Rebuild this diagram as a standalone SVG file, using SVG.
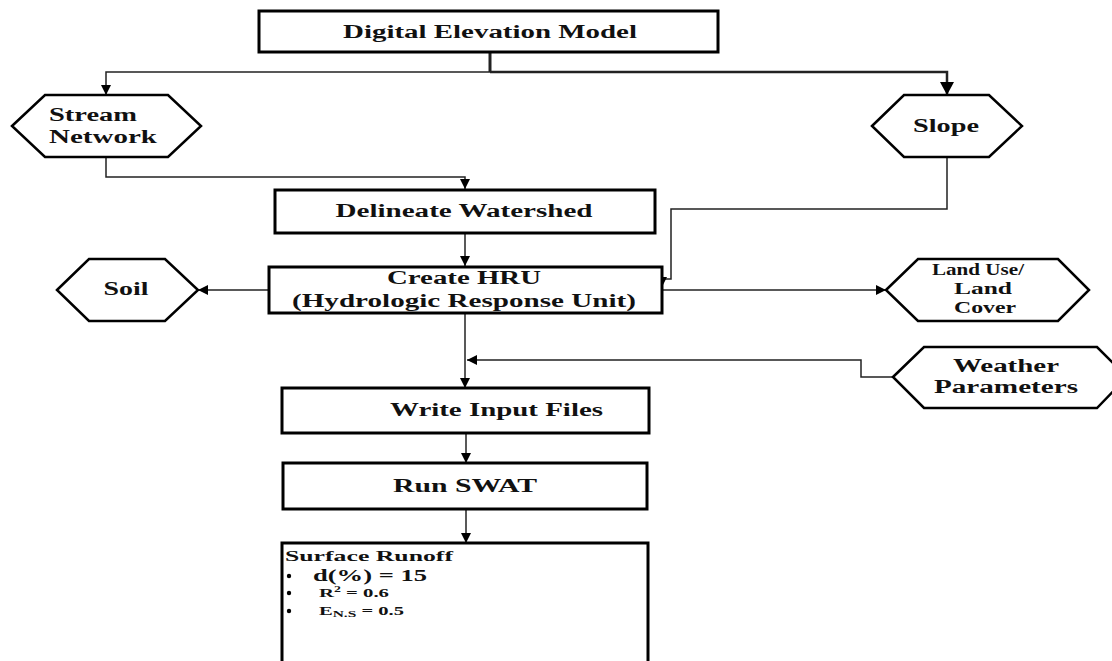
<svg xmlns="http://www.w3.org/2000/svg" width="1112" height="661" viewBox="0 0 1112 661">
<style>
.box{fill:#fff;stroke:#000;stroke-width:3}
.hex{fill:#fff;stroke:#000;stroke-width:2.5;stroke-linejoin:miter}
.t{font-family:"Liberation Serif","Times New Roman",serif;font-weight:bold;fill:#111;font-size:18px}
.c{fill:none;stroke:#222;stroke-width:1.5}
</style>
<defs>
<marker id="ah" markerUnits="userSpaceOnUse" markerWidth="10" markerHeight="10" refX="10" refY="5" orient="auto">
<path d="M0,0 L10,5 L0,10 z" fill="#000"/>
</marker>
<marker id="ahb" markerUnits="userSpaceOnUse" markerWidth="13" markerHeight="14" refX="13" refY="7" orient="auto">
<path d="M0,0 L13,7 L0,14 z" fill="#000"/>
</marker>
</defs>
<rect width="1112" height="661" fill="#fff"/>

<g id="connectors">
<path class="c" d="M490,52 V72" style="stroke-width:3"/>
<path class="c" d="M490,72 H106 V95" marker-end="url(#ah)"/>
<path class="c" d="M490,72 H947 V95" style="stroke-width:2.5" marker-end="url(#ahb)"/>
<path class="c" d="M106,157 V177 H465 V189" marker-end="url(#ah)"/>
<path class="c" d="M465,233 V266" marker-end="url(#ah)"/>
<path class="c" d="M947,157 V209 H671 V279 H662"/>
<path class="c" d="M662,277 V287" marker-end="url(#ah)"/>
<path class="c" d="M269,290 H198" marker-end="url(#ah)"/>
<path class="c" d="M662,290 H886" marker-end="url(#ah)"/>
<path class="c" d="M465,313 V388" marker-end="url(#ah)"/>
<path class="c" d="M893,377 H861 V360 H467" marker-end="url(#ah)"/>
<path class="c" d="M466,433 V463" marker-end="url(#ah)"/>
<path class="c" d="M466,509 V543" marker-end="url(#ah)"/>
</g>

<g id="dem">
<rect class="box" x="259" y="11" width="459" height="41"/>
<text class="t" x="490" y="38" text-anchor="middle" textLength="294" lengthAdjust="spacingAndGlyphs">Digital Elevation Model</text>
</g>

<g id="stream">
<polygon class="hex" points="12,126 45,95 168,95 201,126 168,157 45,157"/>
<text class="t" x="49" y="121" textLength="88" lengthAdjust="spacingAndGlyphs">Stream</text>
<text class="t" x="49" y="143" textLength="108" lengthAdjust="spacingAndGlyphs">Network</text>
</g>

<g id="slope">
<polygon class="hex" points="872,126 904,95 989,95 1022,126 989,157 904,157"/>
<text class="t" x="946" y="132" text-anchor="middle" textLength="66" lengthAdjust="spacingAndGlyphs">Slope</text>
</g>

<g id="delineate">
<rect class="box" x="275" y="190" width="380" height="43"/>
<text class="t" x="464" y="217" text-anchor="middle" textLength="257" lengthAdjust="spacingAndGlyphs">Delineate Watershed</text>
</g>

<g id="hru">
<rect class="box" x="269" y="267" width="393" height="46"/>
<text class="t" x="464" y="284" text-anchor="middle" textLength="154" lengthAdjust="spacingAndGlyphs">Create HRU</text>
<text class="t" x="464" y="307" text-anchor="middle" textLength="344" lengthAdjust="spacingAndGlyphs">(Hydrologic Response Unit)</text>
</g>

<g id="soil">
<polygon class="hex" points="57,290 89,259 165,259 198,290 165,321 89,321"/>
<text class="t" x="126" y="295" text-anchor="middle" textLength="45" lengthAdjust="spacingAndGlyphs">Soil</text>
</g>

<g id="landuse">
<polygon class="hex" points="886,290 918,259 1058,259 1089,290 1058,321 918,321"/>
<text class="t" x="978" y="275" text-anchor="middle" textLength="92" lengthAdjust="spacingAndGlyphs" style="font-size:17px">Land Use/</text>
<text class="t" x="983" y="294" text-anchor="middle" textLength="58" lengthAdjust="spacingAndGlyphs" style="font-size:17px">Land</text>
<text class="t" x="985" y="313" text-anchor="middle" textLength="62" lengthAdjust="spacingAndGlyphs" style="font-size:17px">Cover</text>
</g>

<g id="weather">
<polygon class="hex" points="893,377 924,347 1097,347 1127,377 1097,408 924,408"/>
<text class="t" x="1006" y="372" text-anchor="middle" textLength="106" lengthAdjust="spacingAndGlyphs">Weather</text>
<text class="t" x="1006" y="393" text-anchor="middle" textLength="144" lengthAdjust="spacingAndGlyphs">Parameters</text>
</g>

<g id="write">
<rect class="box" x="282" y="388" width="367" height="45"/>
<text class="t" x="390" y="416" textLength="213" lengthAdjust="spacingAndGlyphs">Write Input Files</text>
</g>

<g id="run">
<rect class="box" x="283" y="463" width="364" height="46"/>
<text class="t" x="465" y="492" text-anchor="middle" textLength="144" lengthAdjust="spacingAndGlyphs" style="font-size:19px">Run SWAT</text>
</g>

<g id="result">
<rect class="box" x="282" y="543" width="366" height="130"/>
<text class="t" x="285" y="561" textLength="168" lengthAdjust="spacingAndGlyphs" style="font-size:15px">Surface Runoff</text>
<circle cx="289" cy="576" r="2.2" fill="#000"/>
<circle cx="289" cy="593" r="2.2" fill="#000"/>
<circle cx="289" cy="611" r="2.2" fill="#000"/>
<text class="t" x="313" y="581" textLength="114" lengthAdjust="spacingAndGlyphs" style="font-size:17px">d(%) = 15</text>
<text class="t" x="319" y="597" style="font-size:12px" textLength="70" lengthAdjust="spacingAndGlyphs">R<tspan font-size="8" dy="-5">2</tspan><tspan dy="5"> = 0.6</tspan></text>
<text class="t" x="319" y="615" style="font-size:12px" textLength="85" lengthAdjust="spacingAndGlyphs">E<tspan font-size="9" dy="2">N.S</tspan><tspan dy="-2"> = 0.5</tspan></text>
</g>
</svg>
